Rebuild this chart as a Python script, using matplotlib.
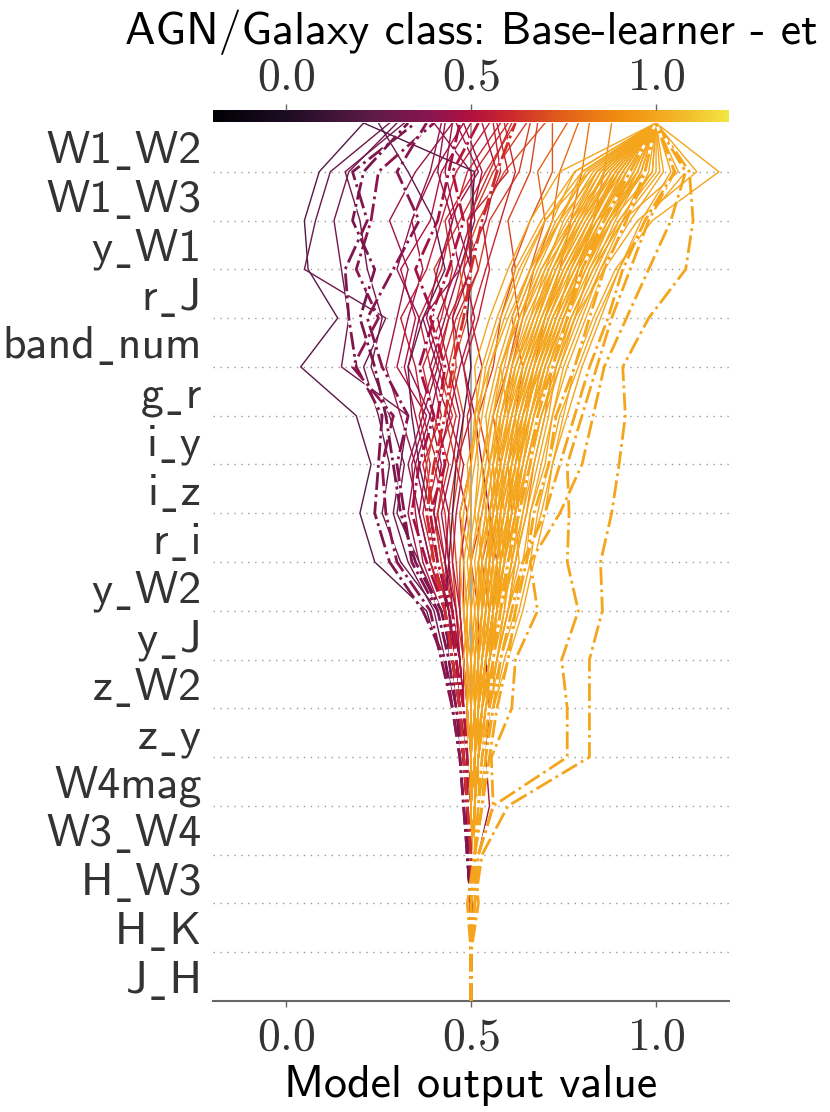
import numpy as np
import matplotlib
matplotlib.use("Agg")
import matplotlib.pyplot as plt
from matplotlib.colors import LinearSegmentedColormap, Normalize
from matplotlib.cm import ScalarMappable

plt.rcParams["mathtext.fontset"] = "cm"

# features, bottom -> top
features = ["J_H", "H_K", "H_W3", "W3_W4", "W4mag", "z_y", "z_W2", "y_J", "y_W2",
            "r_i", "i_z", "i_y", "g_r", "band_num", "r_J", "y_W1", "W1_W3", "W1_W2"]
base_value = 0.5
xlim = (-0.197, 1.197)
xticks = [0.0, 0.5, 1.0]

# model output after adding each feature (bottom -> top), one row per source
paths_solid = [
    [.50, .50, .49, .48, .47, .45, .42, .38, .24, .20, .23, .19, .04, .14, .06, .05, .09, .21],
    [.50, .50, .49, .49, .48, .46, .44, .41, .31, .26, .28, .25, .21, .27, .05, .08, .12, .28],
    [.50, .50, .49, .49, .48, .46, .43, .40, .33, .29, .31, .33, .15, .17, .15, .13, .17, .30],
    [.50, .50, .50, .49, .48, .47, .45, .42, .36, .33, .35, .31, .27, .30, .33, .28, .35, .45],
    [.50, .50, .50, .49, .48, .47, .46, .43, .39, .36, .38, .35, .32, .35, .31, .39, .42, .50],
    [.50, .50, .49, .49, .48, .46, .45, .42, .37, .35, .34, .38, .30, .33, .37, .34, .40, .48],
    [.50, .50, .50, .49, .49, .48, .46, .44, .40, .38, .41, .37, .35, .31, .38, .42, .46, .55],
    [.50, .50, .50, .50, .49, .48, .47, .45, .42, .40, .37, .42, .39, .36, .42, .45, .49, .58],
    [.50, .50, .50, .49, .49, .48, .47, .45, .43, .41, .44, .40, .37, .42, .45, .43, .51, .60],
    [.50, .50, .50, .50, .49, .48, .47, .46, .44, .43, .40, .45, .41, .44, .40, .47, .54, .62],
    [.50, .50, .50, .50, .49, .49, .48, .46, .45, .44, .46, .43, .46, .45, .48, .50, .56, .65],
    [.50, .50, .50, .50, .50, .49, .48, .47, .46, .45, .47, .48, .45, .49, .47, .52, .59, .70],
    [.50, .50, .50, .49, .49, .48, .47, .44, .41, .39, .36, .34, .33, .37, .43, .40, .33, .25],
    [.50, .50, .52, .55, .54, .55, .54, .56, .57, .55, .53, .51, .48, .45, .50, .46, .43, .45],
    [.50, .50, .49, .49, .48, .47, .46, .44, .40, .37, .39, .36, .40, .44, .50, .49, .60, .57],
    [.50, .50, .50, .49, .49, .48, .46, .44, .42, .40, .38, .41, .44, .47, .52, .55, .63, .66],
    [.50, .50, .49, .48, .47, .46, .44, .41, .36, .30, .32, .28, .23, .26, .22, .20, .16, .32],
    [.50, .50, .50, .49, .49, .47, .46, .44, .39, .36, .33, .37, .41, .37, .47, .51, .50, .40],
    [.50, .50, .49, .48, .47, .46, .44, .43, .44, .45, .46, .48, .50, .49, .50, .50, .51, .21],
    [.50, .50, .50, .49, .49, .48, .47, .45, .44, .42, .45, .47, .44, .41, .46, .50, .53, .48],
    [.50, .50, .50, .50, .49, .48, .48, .47, .45, .46, .48, .44, .47, .51, .48, .54, .57, .53],
    [.50, .50, .49, .49, .48, .47, .45, .43, .39, .41, .43, .46, .42, .46, .52, .49, .55, .61],
    [.50, .50, .50, .49, .48, .47, .46, .44, .43, .40, .42, .39, .42, .38, .41, .45, .41, .43],
    [.50, .50, .50, .50, .49, .49, .48, .47, .47, .49, .46, .50, .48, .52, .55, .53, .58, .56],
    [.50, .50, .49, .49, .48, .47, .45, .44, .41, .38, .35, .39, .33, .36, .30, .34, .39, .42],
    [.50, .50, .50, .49, .49, .48, .47, .46, .43, .44, .41, .44, .39, .43, .47, .44, .52, .46],
    [.50, .50, .50, .50, .50, .49, .49, .48, .48, .47, .50, .49, .53, .50, .54, .58, .62, .59],
    [.50, .50, .51, .51, .52, .53, .55, .56, .58, .57, .60, .62, .64, .61, .66, .70, .68, .76],
    [.50, .50, .50, .51, .51, .52, .53, .54, .55, .57, .56, .59, .61, .64, .67, .72, .74, .79],
    [.50, .50, .50, .50, .51, .51, .52, .52, .50, .53, .55, .52, .56, .58, .62, .60, .66, .68],
    [.50, .51, .51, .52, .53, .55, .57, .60, .62, .65, .67, .70, .72, .76, .79, .83, .86, .88],
    [.50, .50, .50, .50, .51, .52, .53, .55, .53, .56, .58, .56, .60, .63, .61, .66, .72, .72],
    [.50, .50, .51, .51, .52, .53, .55, .57, .59, .61, .60, .64, .67, .70, .74, .77, .80, .82],
    [.50, .50, .50, .51, .51, .52, .53, .55, .57, .58, .60, .62, .66, .70, .75, .82, .90, 1.0],
    [.50, .50, .50, .50, .50, .51, .51, .52, .53, .52, .55, .57, .60, .64, .70, .78, .85, 1.0],
    [.50, .50, .51, .51, .52, .53, .55, .58, .61, .60, .64, .67, .70, .75, .80, .86, .93, 1.0],
    [.50, .50, .50, .50, .50, .50, .49, .49, .50, .49, .51, .53, .55, .59, .64, .70, .80, 1.0],
    [.50, .50, .50, .51, .51, .52, .54, .56, .55, .58, .57, .61, .64, .68, .72, .79, .86, 1.0],
    [.50, .50, .51, .52, .53, .55, .58, .61, .65, .66, .70, .72, .76, .81, .86, .92, .98, 1.0],
    [.50, .50, .50, .50, .51, .51, .52, .53, .55, .54, .56, .58, .62, .66, .70, .75, .83, 1.0],
    [.50, .50, .51, .51, .52, .54, .56, .59, .60, .63, .62, .66, .69, .73, .77, .84, .91, 1.0],
    [.50, .50, .50, .51, .51, .52, .53, .54, .52, .55, .58, .60, .58, .63, .68, .74, .80, 1.0],
    [.50, .50, .51, .51, .52, .53, .56, .58, .62, .64, .67, .70, .74, .78, .84, .90, 1.00, 1.0],
    [.50, .50, .50, .50, .50, .49, .50, .48, .50, .47, .50, .52, .51, .55, .60, .66, .74, 1.0],
    [.50, .50, .50, .51, .52, .53, .55, .57, .59, .61, .63, .65, .68, .72, .78, .85, .95, 1.0],
    [.50, .50, .51, .52, .53, .55, .57, .60, .63, .62, .66, .69, .73, .78, .82, .88, .96, 1.0],
    [.50, .50, .50, .50, .51, .52, .52, .54, .56, .57, .56, .59, .62, .67, .73, .80, .88, 1.0],
    [.50, .50, .50, .51, .51, .53, .54, .56, .58, .60, .61, .64, .67, .71, .77, .83, .90, 1.0],
    [.50, .50, .51, .52, .54, .56, .59, .63, .66, .68, .71, .74, .79, .84, .90, .96, 1.04, 1.0],
    [.50, .50, .50, .50, .51, .51, .51, .52, .51, .53, .55, .54, .57, .61, .66, .72, .78, 1.0],
    [.50, .50, .50, .51, .52, .53, .55, .58, .57, .60, .63, .62, .66, .70, .76, .82, .89, 1.0],
    [.50, .50, .51, .51, .52, .54, .55, .57, .60, .62, .65, .68, .71, .76, .81, .87, .94, 1.0],
    [.50, .50, .50, .50, .50, .51, .52, .51, .53, .51, .53, .56, .59, .62, .67, .73, .82, 1.0],
    [.50, .51, .51, .52, .53, .54, .57, .60, .64, .66, .69, .72, .75, .80, .85, .93, 1.02, 1.0],
    [.50, .50, .50, .51, .51, .52, .54, .55, .57, .59, .58, .61, .65, .69, .74, .81, .88, 1.0],
    [.50, .50, .50, .50, .51, .52, .53, .55, .54, .57, .60, .63, .66, .70, .74, .80, .86, 1.0],
    [.50, .50, .51, .52, .53, .55, .58, .62, .65, .69, .72, .76, .80, .85, .90, .97, 1.08, 1.0],
    [.50, .50, .50, .50, .50, .51, .50, .52, .54, .56, .55, .58, .61, .65, .71, .77, .84, 1.0],
    [.50, .50, .51, .51, .52, .53, .55, .57, .58, .61, .64, .66, .70, .74, .79, .86, .92, 1.0],
    [.50, .50, .50, .51, .51, .52, .54, .56, .59, .58, .61, .65, .67, .72, .78, .84, .97, 1.0],
    [.50, .50, .50, .50, .51, .51, .52, .53, .52, .55, .57, .59, .63, .68, .73, .79, .86, 1.0],
    [.50, .51, .51, .52, .53, .55, .57, .60, .62, .65, .68, .71, .73, .78, .86, .95, 1.11, 1.0],
    [.50, .50, .50, .51, .52, .53, .54, .56, .58, .60, .62, .64, .68, .73, .77, .83, .89, 1.0],
    [.50, .50, .51, .52, .53, .56, .60, .64, .67, .70, .72, .75, .78, .83, .89, .99, 1.17, 1.0],
    [.50, .50, .50, .50, .50, .50, .51, .50, .52, .54, .53, .55, .58, .62, .67, .74, .81, 1.0],
    [.50, .50, .50, .51, .51, .52, .53, .55, .56, .58, .61, .63, .67, .71, .76, .84, .93, 1.0],
    [.50, .50, .51, .51, .52, .54, .56, .58, .61, .63, .66, .68, .72, .77, .83, .89, .96, 1.0],
    [.50, .50, .50, .50, .51, .51, .53, .54, .56, .55, .58, .61, .64, .69, .75, .82, .90, 1.0],
    [.50, .50, .50, .51, .51, .53, .55, .57, .60, .62, .60, .64, .69, .74, .80, .88, .99, 1.0],
    [.50, .50, .51, .51, .52, .53, .55, .56, .58, .57, .60, .62, .65, .70, .76, .84, .92, 1.0],
    [.50, .50, .50, .50, .51, .52, .52, .53, .55, .57, .59, .62, .66, .71, .76, .83, .90, 1.0],
    [.50, .50, .50, .51, .52, .52, .54, .57, .56, .59, .62, .66, .70, .75, .81, .87, .95, 1.0],
    [.50, .50, .51, .51, .52, .54, .57, .59, .61, .64, .66, .69, .74, .79, .85, .91, .97, 1.0],
    [.50, .50, .50, .50, .50, .49, .49, .48, .47, .48, .50, .51, .53, .57, .62, .69, .78, 1.0],
    [.50, .50, .50, .50, .49, .49, .48, .49, .48, .50, .49, .52, .54, .58, .63, .70, .82, 1.0],
    [.50, .50, .50, .50, .50, .50, .49, .50, .49, .51, .52, .51, .55, .60, .66, .74, .84, 1.0],
    [.50, .50, .50, .50, .50, .50, .50, .51, .50, .52, .54, .56, .58, .63, .69, .77, .87, 1.0],
    [.50, .50, .50, .51, .51, .51, .52, .53, .54, .56, .58, .60, .64, .69, .74, .81, .90, 1.0],
    [.50, .50, .50, .50, .51, .52, .53, .54, .56, .58, .59, .62, .65, .70, .75, .82, .91, 1.0],
    [.50, .50, .51, .51, .52, .53, .54, .56, .57, .59, .61, .63, .67, .72, .78, .86, .94, 1.0],
    [.50, .50, .50, .51, .51, .52, .52, .54, .55, .56, .58, .60, .63, .67, .72, .78, .87, 1.0],
    [.50, .50, .50, .50, .50, .51, .52, .53, .53, .55, .57, .58, .61, .66, .72, .80, .89, 1.0],
    [.50, .50, .51, .51, .52, .53, .56, .57, .59, .62, .64, .67, .70, .75, .81, .88, .95, 1.0],
    [.50, .50, .50, .51, .51, .52, .53, .55, .57, .59, .62, .64, .69, .73, .79, .86, .94, 1.0],
    [.50, .50, .50, .50, .51, .52, .54, .55, .58, .60, .63, .66, .69, .74, .80, .87, .96, 1.0],
    [.50, .50, .51, .52, .52, .54, .56, .58, .60, .62, .64, .67, .71, .76, .82, .90, .99, 1.0],
    [.50, .50, .50, .50, .50, .51, .51, .53, .55, .55, .57, .60, .62, .67, .71, .77, .85, 1.0],
    [.50, .50, .50, .51, .52, .53, .55, .56, .59, .61, .64, .67, .72, .77, .83, .91, 1.01, 1.0],
    [.50, .50, .51, .51, .52, .53, .54, .57, .59, .60, .62, .65, .68, .72, .78, .85, .92, 1.0],
    [.50, .50, .50, .50, .51, .51, .52, .53, .54, .56, .59, .61, .64, .68, .73, .79, .88, 1.0],
    [.50, .50, .50, .51, .51, .52, .54, .56, .58, .61, .63, .66, .70, .75, .80, .87, .97, 1.0],
    [.50, .50, .51, .51, .52, .54, .56, .58, .61, .63, .65, .69, .73, .77, .83, .91, 1.06, 1.0],
    [.50, .50, .50, .50, .50, .50, .51, .52, .52, .54, .56, .57, .60, .64, .69, .76, .84, 1.0],
    [.50, .50, .50, .51, .52, .53, .55, .57, .59, .62, .65, .68, .71, .75, .80, .86, .93, 1.0],
    [.50, .50, .51, .51, .52, .53, .55, .58, .60, .62, .63, .65, .68, .73, .79, .85, .91, 1.0],
]

# highlighted sources (dash-dot)
paths_highlight = [
    [.50, .50, .49, .48, .47, .45, .43, .37, .28, .24, .25, .26, .19, .17, .16, .22, .18, .35],
    [.50, .50, .49, .48, .47, .45, .42, .39, .30, .27, .26, .29, .18, .25, .19, .23, .25, .40],
    [.50, .50, .49, .49, .48, .46, .44, .41, .34, .32, .30, .33, .26, .22, .29, .36, .30, .38],
    [.50, .50, .49, .49, .48, .47, .45, .43, .38, .34, .36, .40, .36, .40, .35, .41, .44, .47],
    [.50, .50, .50, .49, .49, .48, .46, .45, .41, .39, .43, .41, .43, .39, .44, .48, .45, .52],
    [.50, .50, .49, .49, .48, .47, .45, .42, .35, .31, .29, .27, .24, .20, .24, .18, .21, .33],
    [.50, .50, .50, .49, .48, .47, .45, .43, .40, .38, .40, .43, .45, .48, .50, .53, .57, .62],
    [.50, .51, .53, .60, .82, .82, .82, .855, .85, .88, .90, .917, .91, .98, 1.08, 1.10, 1.09, 1.0],
    [.50, .50, .52, .56, .76, .76, .745, .79, .76, .765, .76, .80, .84, .88, .93, .98, 1.05, 1.0],
    [.50, .51, .52, .56, .555, .61, .62, .68, .66, .74, .80, .83, .86, .92, .98, 1.04, 1.08, 1.0],
    [.50, .50, .51, .53, .55, .57, .60, .62, .65, .67, .71, .73, .78, .82, .86, .92, .97, 1.0],
    [.50, .49, .51, .52, .53, .55, .56, .58, .60, .63, .66, .68, .72, .76, .80, .86, .93, 1.0],
    [.50, .52, .51, .53, .54, .56, .58, .61, .64, .70, .74, .78, .82, .87, .91, .97, 1.05, 1.0],
]

cmap_colors = ["#000004", "#1c0c22", "#5e1a48", "#8a1550", "#b1103e", "#cd2a2c",
               "#e3601a", "#ef8a10", "#f4a51c", "#f2c22e", "#f2e642"]
cmap_stops = [0.0, 0.14, 0.31, 0.42, 0.50, 0.58, 0.68, 0.78, 0.86, 0.93, 1.0]
cmap = LinearSegmentedColormap.from_list("agn", list(zip(cmap_stops, cmap_colors)))
norm = Normalize(*xlim)

fig = plt.figure(figsize=(8.3, 11.12), dpi=100)
ax = fig.add_axes([0.2566, 0.0998, 0.6217, 0.7896])
y_pos = np.arange(len(features) + 1)

for k in y_pos[1:-1]:
    ax.axhline(k, color="#999999", lw=1.0, ls=(0, (1, 4)), zorder=0)
ax.axvline(base_value, color="#aaaaaa", lw=1.5, zorder=1)

for row in paths_solid:
    vals = np.r_[base_value, row]
    ax.plot(vals, y_pos, color=cmap(norm(vals[-1])), lw=1.0, zorder=2)
for row in paths_highlight:
    vals = np.r_[base_value, row]
    ax.plot(vals, y_pos, color=cmap(norm(vals[-1])), lw=2.0, ls="-.",
            gapcolor="white", zorder=3)

ax.set_xlim(xlim)
ax.set_ylim(0, len(features))
ax.set_yticks(y_pos[:-1] + 0.5)
# cmss10 has no real underscore, so a low macron from DejaVu stands in for it
ax.set_yticklabels([f.replace("_", "\u02cd") for f in features],
                   family=["cmss10", "DejaVu Sans"], fontsize=33, color="#333333")
ax.tick_params(axis="y", length=0, pad=8)
ax.set_xticks(xticks)
ax.set_xticklabels([f"${v:.1f}$" for v in xticks], fontsize=33, color="#333333")
ax.tick_params(axis="x", length=4, width=1, color="#666666", pad=6)
for s in ["left", "right", "top"]:
    ax.spines[s].set_visible(False)
ax.spines["bottom"].set_color("#666666")
ax.spines["bottom"].set_linewidth(1.5)
ax.set_xlabel("Model output value", family="cmss10", fontsize=33, labelpad=4)

cax = fig.add_axes([0.2566, 0.8903, 0.6217, 0.0108])
cb = fig.colorbar(ScalarMappable(norm=norm, cmap=cmap), cax=cax, orientation="horizontal")
cb.outline.set_visible(False)
cb.set_ticks(xticks)
cb.set_ticklabels([f"${v:.1f}$" for v in xticks])
cax.xaxis.set_ticks_position("top")
cax.xaxis.set_label_position("top")
cax.tick_params(axis="x", length=4, width=1, color="#666666", labelsize=33,
                labelcolor="#333333", pad=3)

fig.text(0.5675, 0.96, "AGN/Galaxy class: Base-learner - et", family="cmss10",
         fontsize=33, ha="center", va="baseline")

fig.savefig("out.png", dpi=100)
